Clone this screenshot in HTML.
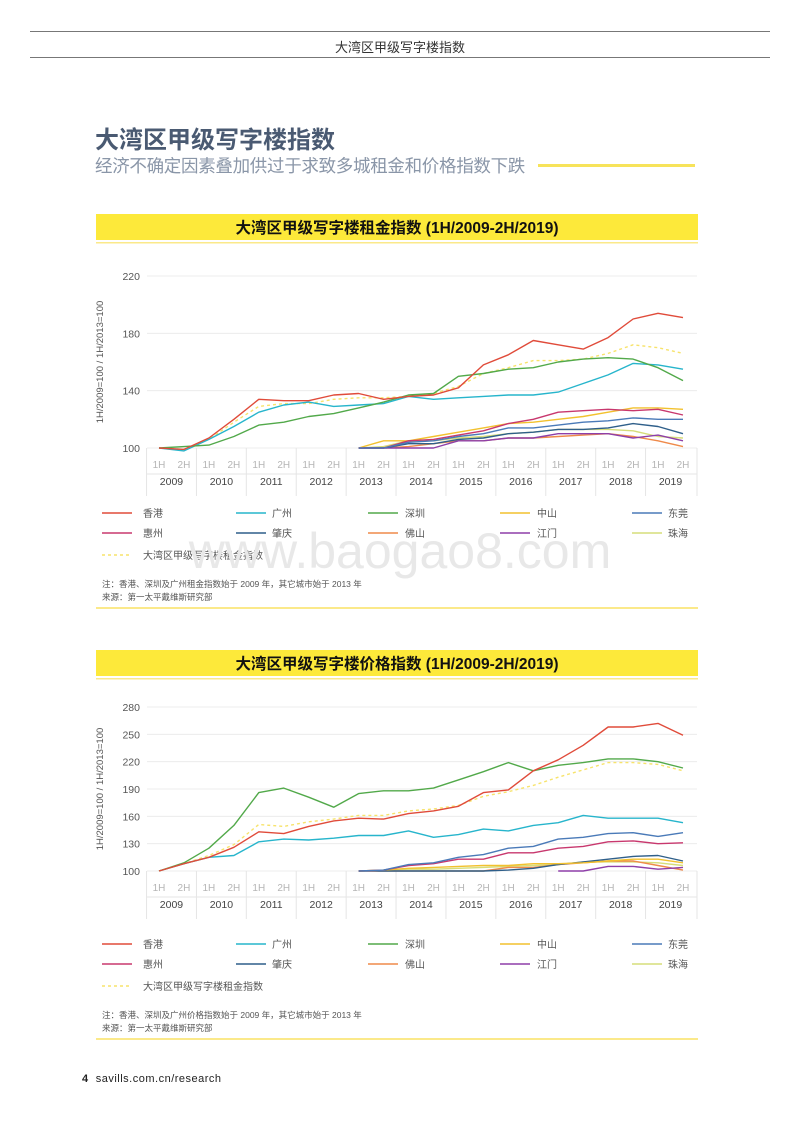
<!DOCTYPE html>
<html><head><meta charset="utf-8">
<style>
body{margin:0;background:#fff;}
#page{position:relative;width:800px;height:1132px;overflow:hidden;font-family:"Liberation Sans","Noto Sans CJK SC",sans-serif;}
.abs{position:absolute;}
</style></head>
<body>
<div id="page">
<div class="abs" style="left:30px;top:31px;width:740px;height:1px;background:#777"></div>
<div class="abs" style="left:0;width:800px;top:37px;text-align:center;font-size:13px;color:#333">大湾区甲级写字楼指数</div>
<div class="abs" style="left:30px;top:57px;width:740px;height:1px;background:#777"></div>
<div class="abs" style="left:95px;top:120px;font-size:24px;font-weight:bold;color:#4a5a72">大湾区甲级写字楼指数</div>
<div class="abs" style="left:95px;top:153px;font-size:17.5px;letter-spacing:-0.3px;color:#8a96a8">经济不确定因素叠加供过于求致多城租金和价格指数下跌</div>
<div class="abs" style="left:538px;top:164px;width:157px;height:3px;background:#f7e35a"></div>
<div class="abs" style="left:0;width:800px;top:522px;text-align:center;font-size:50px;color:#e8e8e8;z-index:5">www.baogao8.com</div>
<svg id="svg" class="abs" style="left:0;top:0" width="800" height="1132"></svg>
<div class="abs" style="left:82px;top:1073px;font-size:11px;color:#222;letter-spacing:0.5px"><b>4</b>&nbsp;&nbsp;savills.com.cn/research</div>
</div>
<script>
const periods=["1H","2H"];
const years=["2009","2010","2011","2012","2013","2014","2015","2016","2017","2018","2019"];
const seriesNames=["香港","广州","深圳","中山","东莞","惠州","肇庆","佛山","江门","珠海"];
const seriesColors=["#e04b3a","#27b5cc","#52a94a","#f2c12e","#4a7ab8","#c8386e","#2f5f8a","#ef8a4a","#8e3fa8","#d6dd7a"];
const aggName="大湾区甲级写字楼租金指数";
// rent chart
const rentTicks=[100,140,180,220];
const rentHK=[100,99,107,120,134,133,133,137,138,134,136,137,142,158,165,175,172,169,177,190,194,191];
const rentGZ=[100,98,106,115,125,130,132,129,130,131,136,134,135,136,137,137,139,145,151,159,158,155];
const rentSZ=[100,101,102,108,116,118,122,124,128,132,137,138,150,152,155,156,160,162,163,162,156,147];
const rentAgg=[100,99,106,118,129,131,131,134,135,135,136,138,143,152,156,161,161,162,166,172,170,166];
const rentZS=[100,105,105,108,111,114,117,118,120,122,125,128,128,127];
const rentDG=[100,100,104,105,108,110,114,114,116,118,119,121,120,120];
const rentHZ=[100,100,105,106,109,112,117,120,125,126,127,126,127,123];
const rentZQ=[100,100,103,103,106,107,110,111,113,113,114,117,115,110];
const rentFS=[100,100,101,103,105,105,107,107,108,109,110,108,105,101];
const rentJM=[100,100,100,100,105,105,107,107,110,110,110,107,109,105];
const rentZH=[100,101,105,105,107,108,110,111,113,113,113,112,108,107];
// price chart
const priceTicks=[100,130,160,190,220,250,280];
const priceHK=[100,108,115,126,143,141,149,155,158,157,163,166,171,186,189,210,222,238,258,258,262,249];
const priceGZ=[100,108,115,117,132,135,134,136,139,139,144,137,140,146,144,150,153,161,158,158,158,153];
const priceSZ=[100,109,125,150,186,191,181,170,185,188,188,191,200,209,219,210,216,219,223,223,220,213];
const priceAgg=[100,108,117,129,151,149,154,157,161,161,166,168,172,182,187,194,203,211,219,219,217,210];
const priceZS=[100,101,103,104,105,106,106,108,108,109,111,113,113,109];
const priceDG=[100,101,107,109,115,118,125,127,135,137,141,142,138,142];
const priceHZ=[100,101,106,108,113,113,120,120,125,127,132,133,130,131];
const priceZQ=[100,100,100,100,100,100,101,103,107,110,113,116,117,111];
const priceFS=[100,100,100,100,100,100,104,104,107,109,111,111,106,101];
const priceJM=[100,100,105,105,102,104];
const priceZH=[100,101,102,102,103,104,105,106,107,110,110,110,109,106];

const NS="http://www.w3.org/2000/svg";
const svg=document.getElementById('svg');
function mk(tag,attrs,parent){const e=document.createElementNS(NS,tag);for(const k in attrs)e.setAttribute(k,attrs[k]);(parent||svg).appendChild(e);return e;}
const FONT='"Liberation Sans","Noto Sans CJK SC",sans-serif';

function drawChart(o){
  const g=mk('g',{});
  
  
  const X0=159,step=(683-159)/21;
  const xs=i=>X0+i*step;
  const ys=v=>o.y0-(v-o.min)/(o.max-o.min)*(o.y0-o.y1);
  const bar=mk('rect',{x:96,y:o.barY,width:602,height:26,fill:'#fde93a'},g);
  
  
  const bl=mk('rect',{x:96,y:o.barY+28,width:602,height:1.5,fill:'#fbe98a'},g);
  
  
  const t=mk('text',{x:397,y:o.barY+19,'text-anchor':'middle','font-size':15.5,'font-weight':'bold',fill:'#111','font-family':FONT},g);
  t.textContent=o.title;
  
  
  o.ticks.forEach(v=>{
    const l=mk('line',{x1:147,x2:697,y1:ys(v),y2:ys(v),stroke:'#ececec','stroke-width':1},g);
    
    
    const tt=mk('text',{x:140,y:ys(v)+4,'text-anchor':'end','font-size':10.5,fill:'#555','font-family':FONT},g);
    tt.textContent=v;
    
    
  });
  const yt=mk('text',{x:0,y:0,'text-anchor':'middle','font-size':9.5,fill:'#555','font-family':FONT,transform:`translate(103,${(o.y0+o.y1)/2}) rotate(-90)`},g);
  yt.textContent='1H/2009=100 / 1H/2013=100';
  
  
  const base=o.y0;
  years.forEach((yr,k)=>{
    const xl=X0-step/2+k*2*step;
    const sep=mk('line',{x1:xl,x2:xl,y1:base,y2:base+48,stroke:'#e5e5e5'},g);
    
    
    periods.forEach((p,j)=>{
      const pt=mk('text',{x:xs(k*2+j),y:base+20,'text-anchor':'middle','font-size':10,fill:'#b5b5b5','font-family':FONT},g);
      pt.textContent=p;
      
      
    });
    const ytx=mk('text',{x:xs(k*2)+step/2,y:base+37,'text-anchor':'middle','font-size':10.5,fill:'#444','font-family':FONT},g);
    ytx.textContent=yr;
    
    
  });
  const last=mk('line',{x1:697,x2:697,y1:base,y2:base+48,stroke:'#e5e5e5'},g);
  
  
  const mid=mk('line',{x1:147,x2:697,y1:base+26,y2:base+26,stroke:'#e5e5e5'},g);
  
  
  const line=(vals,start,color,dash,name)=>{
    const pts=vals.map((v,i)=>xs(start+i).toFixed(1)+','+ys(v).toFixed(1)).join(' ');
    const pl=mk('polyline',{points:pts,fill:'none',stroke:color,'stroke-width':1.4,'stroke-linejoin':'round'},g);
    if(dash)pl.setAttribute('stroke-dasharray','3,3');
    
    
  };
  [9,7,8,6,3,5,4].forEach(i=>line(o.series[i],o.starts[i],seriesColors[i],false,seriesNames[i]));
  line(o.agg,0,'#f7e36b',true,'aggregate');
  [1,2,0].forEach(i=>line(o.series[i],o.starts[i],seriesColors[i],false,seriesNames[i]));
  const cols=[102,236,368,500,632], txs=[143,272,405,537,668];
  seriesNames.forEach((n,i)=>{
    const r=Math.floor(i/5),c=i%5,ly=o.legY+r*20;
    const ll=mk('line',{x1:cols[c],x2:cols[c]+30,y1:ly,y2:ly,stroke:seriesColors[i],'stroke-width':1.5},g);
    
    
    const lt=mk('text',{x:txs[c],y:ly+4,'font-size':10,fill:'#555','font-family':FONT},g);
    lt.textContent=n;
    
    
  });
  const ly=o.legY+42;
  const dl=mk('line',{x1:102,x2:132,y1:ly,y2:ly,stroke:'#f7e36b','stroke-width':1.5,'stroke-dasharray':'3,3'},g);
  
  
  const dt=mk('text',{x:143,y:ly+4,'font-size':10,fill:'#555','font-family':FONT},g);
  dt.textContent=aggName;
  
  
  o.notes.forEach((n,i)=>{
    const nt=mk('text',{x:102,y:o.legY+74+i*13,'font-size':8.5,fill:'#555','font-family':FONT},g);
    nt.textContent=n;
    
    
  });
  const bot=mk('rect',{x:96,y:o.legY+94,width:602,height:2,fill:'#fbe98a'},g);
  
  
}
drawChart({name:'rent-index-chart',title:'大湾区甲级写字楼租金指数 (1H/2009-2H/2019)',barY:214,y0:448,y1:276,min:100,max:220,ticks:rentTicks,
  series:[rentHK,rentGZ,rentSZ,rentZS,rentDG,rentHZ,rentZQ,rentFS,rentJM,rentZH],starts:[0,0,0,8,8,8,8,8,8,8],agg:rentAgg,legY:513,
  notes:['注：香港、深圳及广州租金指数始于 2009 年，其它城市始于 2013 年','来源：第一太平戴维斯研究部']});
drawChart({name:'price-index-chart',title:'大湾区甲级写字楼价格指数 (1H/2009-2H/2019)',barY:650,y0:871,y1:707,min:100,max:280,ticks:priceTicks,
  series:[priceHK,priceGZ,priceSZ,priceZS,priceDG,priceHZ,priceZQ,priceFS,priceJM,priceZH],starts:[0,0,0,8,8,8,8,8,16,8],agg:priceAgg,legY:944,
  notes:['注：香港、深圳及广州价格指数始于 2009 年，其它城市始于 2013 年','来源：第一太平戴维斯研究部']});
</script>
</body></html>
